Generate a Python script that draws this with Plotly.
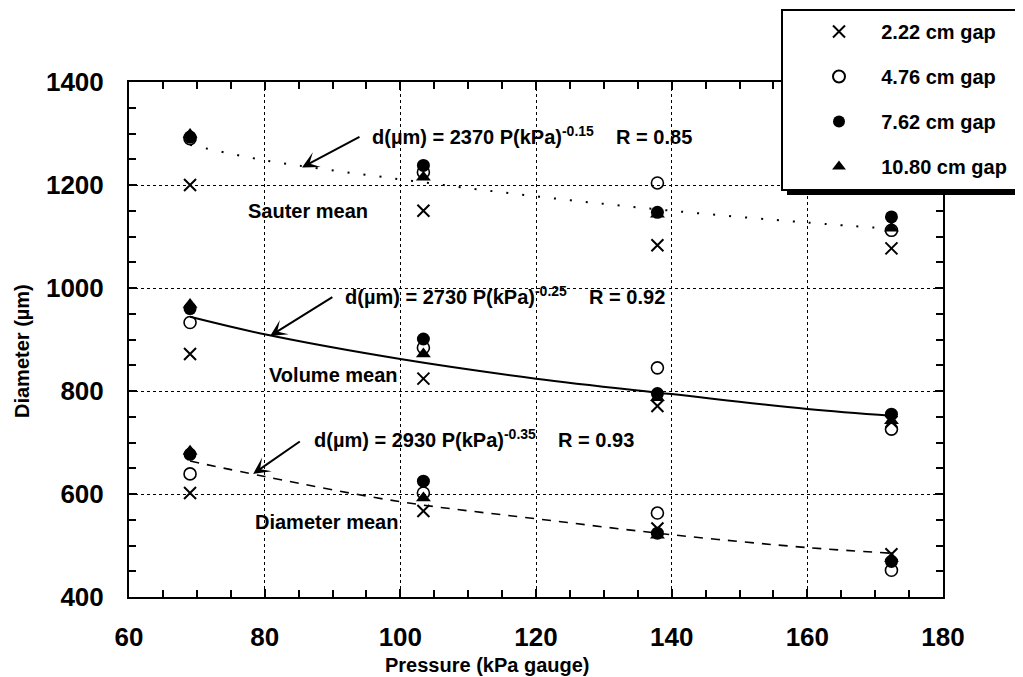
import plotly.graph_objects as go

# ---------------- data ----------------
pressure = [69.0, 103.4, 137.9, 172.4]

# Sauter mean diameters (um)
sauter_222 = [1200, 1150, 1083, 1077]
sauter_476 = [1290, 1225, 1204, 1112]
sauter_762 = [1293, 1238, 1147, 1138]
sauter_1080 = [1298, 1215, 1143, 1116]

# Volume mean diameters (um)
volume_222 = [872, 824, 771, 740]
volume_476 = [933, 884, 845, 726]
volume_762 = [960, 901, 795, 755]
volume_1080 = [968, 872, 787, 742]

# Diameter mean (um)
diam_222 = [602, 567, 533, 483]
diam_476 = [639, 602, 563, 452]
diam_762 = [677, 625, 524, 469]
diam_1080 = [683, 592, 520, 475]

# fit curves
fit_p = [69, 80, 100, 120, 140, 160, 172.4]
sauter_fit = [1278, 1248, 1211, 1178, 1150, 1127, 1115]
volume_fit = [944, 910, 862, 824, 794, 765, 752]
diam_fit = [664, 634, 585, 552, 521, 496, 485]

series_names = ["2.22 cm gap", "4.76 cm gap", "7.62 cm gap", "10.80 cm gap"]

FONT = "Liberation Sans, Arial, sans-serif"
NBSP = "\u00a0"

fig = go.Figure()

# fit lines
fig.add_trace(go.Scatter(x=fit_p, y=sauter_fit, mode="lines", line_shape="spline",
                         line=dict(color="black", width=2, dash="2px,14px"),
                         showlegend=False, hoverinfo="skip"))
fig.add_trace(go.Scatter(x=fit_p, y=volume_fit, mode="lines", line_shape="spline",
                         line=dict(color="black", width=2),
                         showlegend=False, hoverinfo="skip"))
fig.add_trace(go.Scatter(x=fit_p, y=diam_fit, mode="lines", line_shape="spline",
                         line=dict(color="black", width=1.6, dash="9px,8px"),
                         showlegend=False, hoverinfo="skip"))

marker_styles = [
    dict(symbol="x-thin", size=12, color="black", line=dict(color="black", width=2)),
    dict(symbol="circle-open", size=12, color="black", line=dict(color="black", width=1.6)),
    dict(symbol="circle", size=13, color="black"),
    dict(symbol="triangle-up", size=13, color="black"),
]

groups = [
    (sauter_222, volume_222, diam_222),
    (sauter_476, volume_476, diam_476),
    (sauter_762, volume_762, diam_762),
    (sauter_1080, volume_1080, diam_1080),
]

for i, (name, style, grp) in enumerate(zip(series_names, marker_styles, groups)):
    yy = []
    xx = []
    for arr in grp:
        xx += pressure
        yy += arr
    fig.add_trace(go.Scatter(x=xx, y=yy, mode="markers", name=NBSP * 4 + name, marker=style,
                             legendgroup=f"g{i}", cliponaxis=False))

# annotations
ann_font = dict(family=FONT, size=20, color="black", weight="bold")
gap = " " + NBSP * 3
texts = [
    ("d(\u00b5m) = 2370 P(kPa)<sup>-0.15</sup>" + gap + "R = 0.85", 95.5, 1297),
    ("d(\u00b5m) = 2730 P(kPa)<sup>-0.25</sup>" + gap + "R = 0.92", 91.5, 985),
    ("d(\u00b5m) = 2930 P(kPa)<sup>-0.35</sup>" + gap + "R = 0.93", 87.0, 707),
    ("Sauter mean", 77.2, 1149),
    ("Volume mean", 80.4, 831),
    ("Diameter mean", 78.3, 545),
]
for t, x, y in texts:
    fig.add_annotation(x=x, y=y, text=t, showarrow=False, xanchor="left",
                       yanchor="middle", font=ann_font, xref="x", yref="y")

arrows = [
    ((94.2, 1295), (85.5, 1234)),
    ((90.2, 984), (80.8, 907)),
    ((85.4, 704), (78.3, 639)),
]
for (tx, ty), (hx, hy) in arrows:
    fig.add_annotation(x=hx, y=hy, ax=tx, ay=ty, xref="x", yref="y",
                       axref="x", ayref="y", text="", showarrow=True,
                       arrowhead=3, arrowsize=1.4, arrowwidth=2, arrowcolor="black")


# helpers: window pixel -> paper coordinates (plot area spans x 129..943, y 82..597)
def px_x(p):
    return (p - 129) / 814


def px_y(p):
    return (597 - p) / 515


# axis titles as annotations
fig.add_annotation(x=px_x(487), y=px_y(665), xref="paper", yref="paper",
                   text="Pressure (kPa gauge)", showarrow=False,
                   font=dict(family=FONT, size=20, color="black", weight="bold"),
                   xanchor="center", yanchor="middle")
fig.add_annotation(x=px_x(22), y=px_y(351), xref="paper", yref="paper",
                   text="Diameter (\u00b5m)", showarrow=False, textangle=-90,
                   font=dict(family=FONT, size=20, color="black", weight="bold"),
                   xanchor="center", yanchor="middle")

# legend box with shadow
fig.add_shape(type="rect", xref="paper", yref="paper",
              x0=px_x(787), x1=px_x(1024), y0=px_y(195), y1=px_y(15),
              fillcolor="black", line=dict(width=0), layer="above")
fig.add_shape(type="rect", xref="paper", yref="paper",
              x0=px_x(782), x1=px_x(1019), y0=px_y(190), y1=px_y(10),
              fillcolor="white", line=dict(color="black", width=2), layer="above")

axis_common = dict(
    showline=True, linecolor="black", linewidth=2, mirror="ticks",
    ticks="inside", ticklen=8, tickwidth=1.5, tickcolor="black",
    showgrid=True, gridcolor="black", griddash="dot", gridwidth=1,
    zeroline=False,
    tickfont=dict(family=FONT, size=26, color="black", weight="bold"),
)

fig.update_xaxes(range=[60, 180], dtick=20, tick0=60,
                 minor=dict(ticks="inside", dtick=5, ticklen=7, tickcolor="black", showgrid=False),
                 ticklabelstandoff=16, **axis_common)
fig.update_yaxes(range=[400, 1400], dtick=200, tick0=400,
                 minor=dict(ticks="inside", dtick=50, ticklen=7, tickcolor="black", showgrid=False),
                 ticklabelstandoff=18, **axis_common)

# the page places the figure 8px from the window's top-left corner
fig.update_layout(
    width=1015, height=669,
    margin=dict(l=121, r=80, t=74, b=80, autoexpand=False),
    plot_bgcolor="white", paper_bgcolor="white",
    font=dict(family=FONT, color="black"),
    showlegend=True,
    legend=dict(x=px_x(819), y=px_y(12), xanchor="left", yanchor="top",
                bgcolor="rgba(0,0,0,0)", borderwidth=0,
                font=dict(family=FONT, size=20, color="black", weight="bold"),
                tracegroupgap=16, itemsizing="constant"),
)

fig.write_html("out.html")
